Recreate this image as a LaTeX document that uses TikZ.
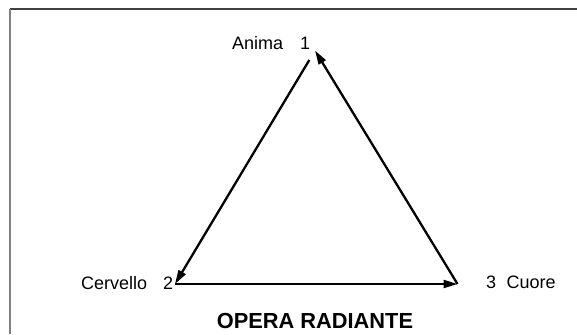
\documentclass[tikz,border=0pt]{standalone}
\usepackage{fontspec}
\setmainfont{Liberation Sans}
\usetikzlibrary{arrows.meta}
\begin{document}
\begin{tikzpicture}[x=1pt,y=-1pt,
  lbl/.style={inner sep=0pt,anchor=base west,font=\fontsize{18}{20}\selectfont},
  edge/.style={line width=2.3pt,-{Triangle[length=14pt,width=8pt]}},
  titlefont/.style={inner sep=0pt,anchor=base,font=\fontsize{21.8}{24}\selectfont\bfseries}]
\useasboundingbox (0,0) rectangle (577,334);
\fill[white] (0,0) rectangle (577,334);
\draw[line width=2pt,black!75] (9.5,9.5) -- (577,9.5);
\draw[line width=2pt,black!50] (9.5,9.5) -- (9.5,334);
% vertices
\coordinate (T) at (315,50.5);
\coordinate (L) at (175,284);
\coordinate (R) at (457.5,284);
% labels
\node[lbl] (anima) at (232,49.3) {Anima};
\node[lbl] (uno) at (300,49.3) {1};
\node[lbl] (cerv) at (81,289) {Cervello};
\node[lbl] (due) at (163,289) {2};
\node[lbl] (tre) at (486,288.5) {3};
\node[lbl] (cuore) at (506.5,288.5) {Cuore};
\node[titlefont] (title) at (315,328.3) {OPERA RADIANTE};
% edges
\draw[edge,shorten <=11pt] (T) -- (L);
\draw[edge] (L) -- (R);
\draw[edge] (R) -- (T);
\end{tikzpicture}
\end{document}
